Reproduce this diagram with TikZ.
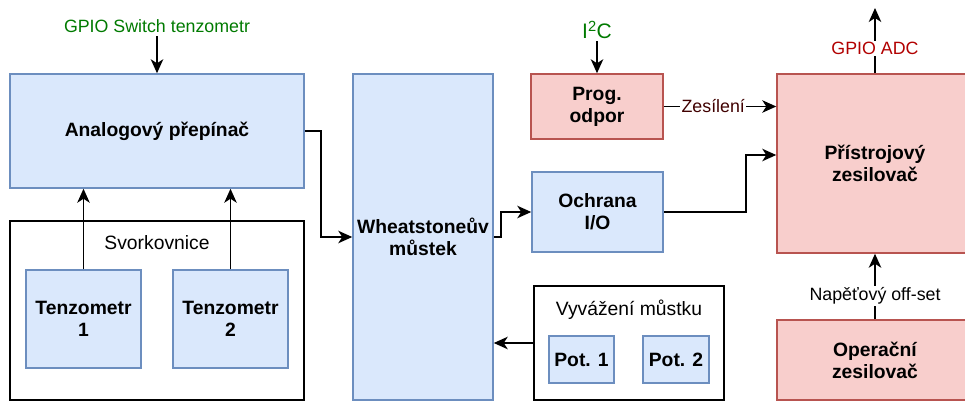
\documentclass[tikz,border=0pt]{standalone}
\usepackage{fontspec}
\setmainfont{Liberation Sans}
\usetikzlibrary{arrows.meta,calc}
\definecolor{bfill}{HTML}{DAE8FC}
\definecolor{bline}{HTML}{6C8EBF}
\definecolor{rfill}{HTML}{F8CECC}
\definecolor{rline}{HTML}{B85450}
\definecolor{gtxt}{RGB}{0,122,0}
\definecolor{adctxt}{HTML}{B20000}
\definecolor{zestxt}{RGB}{64,0,0}
\tikzset{
  x=1pt, y=-1pt,
  reg/.style={font=\fontsize{17.8}{21}\selectfont},
  regl/.style={font=\fontsize{19.3}{22}\selectfont},
  bld/.style={font=\fontsize{19.3}{22}\selectfont\bfseries, align=center},
  bluebox/.style={draw=bline, fill=bfill, line width=1.5pt, inner sep=0pt, bld},
  redbox/.style={draw=rline, fill=rfill, line width=1.5pt, inner sep=0pt, bld},
  groupbox/.style={draw=black, fill=white, line width=1.5pt, inner sep=0pt},
  conn/.style={draw=black, line width=1.5pt, -{Stealth[length=14pt,width=12.5pt,inset=4pt]}},
  lbl/.style={reg, fill=white, inner sep=1.5pt},
}
\begin{document}
\begin{tikzpicture}
\useasboundingbox (0,0) rectangle (965,401);
% group boxes
\node[groupbox, minimum width=294pt, minimum height=179pt] (svork) at (157,310.5) {};
\node[regl] (svorklbl) at (157,243) {Svorkovnice};
\node[groupbox, minimum width=190pt, minimum height=114pt] (vyv) at (629,343) {};
\node[regl] (vyvlbl) at (629,310) {Vyvážení můstku};
% blocks
\node[bluebox, minimum width=294pt, minimum height=114pt] (analog) at (157,131) {Analogový přepínač};
\node[bluebox, minimum width=115pt, minimum height=98pt] (t1) at (83.5,319) {Tenzometr\\1};
\node[bluebox, minimum width=115pt, minimum height=98pt] (t2) at (230.5,319) {Tenzometr\\2};
\node[bluebox, minimum width=140pt, minimum height=326pt] (wheat) at (423,237) {Wheatstoneův\\můstek};
\node[redbox, minimum width=132pt, minimum height=65pt] (prog) at (597,106.5) {Prog.\\odpor};
\node[bluebox, minimum width=131pt, minimum height=80pt] (ochr) at (597.5,212) {Ochrana\\I/O};
\node[redbox, minimum width=196pt, minimum height=179pt] (prist) at (875,163.5) {Přístrojový\\zesilovač};
\node[redbox, minimum width=196pt, minimum height=80pt] (oper) at (875,360) {Operační\\zesilovač};
\node[bluebox, minimum width=65pt, minimum height=47pt] (pot1) at (581.5,359.5) {Pot. 1};
\node[bluebox, minimum width=66pt, minimum height=47pt] (pot2) at (676,359.5) {Pot. 2};
% external labels
\node[reg, text=gtxt] (gpio) at (157,26) {GPIO Switch tenzometr};
\node[font=\fontsize{21}{23}\selectfont, text=gtxt, inner sep=2pt] (i2c) at (597,30) {I\textsuperscript{2}C};
\coordinate (adcend) at (875,8);
% connectors
\draw[conn] (gpio.south) -- (analog.north);
\draw[conn] (i2c.south) -- (prog.north);
\draw[conn] (t1.north) -- (t1.north |- analog.south);
\draw[conn] (t2.north) -- (t2.north |- analog.south);
\draw[conn] (analog.east) -- ++(16,0) |- (wheat.west);
\draw[conn] (wheat.east) -- ++(7,0) |- (ochr.west);
\draw[conn] (ochr.east) -- ++(82,0) |- ([yshift=8.5pt]prist.west);
\draw[conn] (prog.east) -- node[lbl, text=zestxt, pos=0.44] {Zesílení} (prog.east -| prist.west);
\draw[conn] (prist.north) -- node[lbl, text=adctxt, pos=0.38] {GPIO ADC} (adcend);
\draw[conn] (oper.north) -- node[lbl, pos=0.36] {Napěťový off-set} (prist.south);
\draw[conn] (vyv.west) -- (vyv.west -| wheat.east);
\end{tikzpicture}
\end{document}
